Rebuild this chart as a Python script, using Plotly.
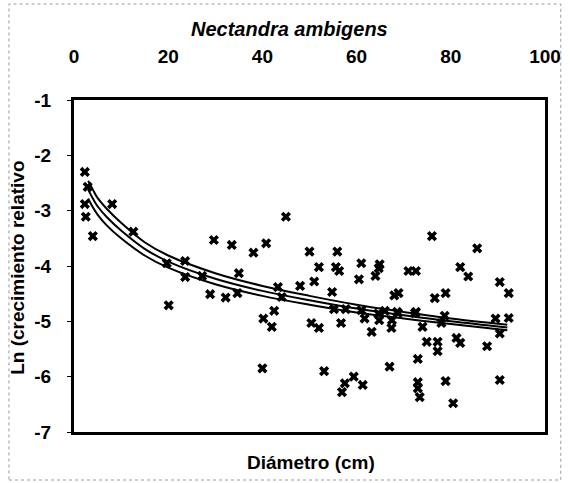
import plotly.graph_objects as go

# Scatter data (diameter cm, ln relative growth)
diam = [2.3, 2.9, 2.3, 2.5, 4.0, 8.1, 12.6,
        19.7, 23.6, 23.6, 27.2, 20.1, 28.9, 32.2, 34.7, 35.0,
        29.7, 33.5, 38.1, 40.8, 45.0,
        50.0, 55.9, 52.0, 55.6, 56.3, 61.0, 64.9, 64.7, 64.0, 71.0, 72.6, 76.0, 60.5, 51.0,
        85.6, 82.0, 83.7, 68.9, 76.6, 78.9, 90.4, 92.3,
        68.8, 72.4, 74.0, 78.7, 78.0, 89.5, 92.3, 90.4,
        74.9, 77.2, 77.2, 81.2, 82.0, 87.7, 73.0, 73.0, 73.0, 73.4, 78.9, 90.4, 80.5,
        43.3, 48.0, 54.8, 44.1, 68.0,
        42.5, 40.2, 42.0, 50.4, 52.0, 56.7, 55.2, 57.7, 61.0, 61.7, 64.6, 64.8, 66.0, 67.5, 68.6, 67.4, 63.2, 72.6,
        40.0, 53.1, 59.4, 61.3, 57.5, 56.9, 67.0]
lncrec = [-2.30, -2.57, -2.88, -3.11, -3.46, -2.88, -3.38,
          -3.95, -3.91, -4.20, -4.18, -4.71, -4.51, -4.57, -4.49, -4.13,
          -3.53, -3.62, -3.76, -3.59, -3.11,
          -3.74, -3.74, -4.02, -4.02, -4.09, -3.95, -3.97, -4.04, -4.18, -4.09, -4.09, -3.46, -4.24, -4.28,
          -3.68, -4.02, -4.19, -4.49, -4.58, -4.49, -4.29, -4.49,
          -4.85, -4.85, -5.10, -4.90, -5.03, -4.95, -4.94, -5.22,
          -5.37, -5.37, -5.54, -5.30, -5.39, -5.45, -5.68, -6.10, -6.21, -6.37, -6.08, -6.06, -6.48,
          -4.38, -4.36, -4.47, -4.56, -4.53,
          -4.81, -4.95, -5.10, -5.03, -5.12, -5.03, -4.78, -4.78, -4.80, -4.95, -4.86, -4.98, -4.81, -4.98, -4.83, -5.12, -5.19, -4.83,
          -5.85, -5.90, -6.00, -6.15, -6.12, -6.28, -5.82]

# Fitted curve and confidence bands
fit_x = [3, 4, 5, 7, 10, 15, 20, 30, 40, 50, 60, 70, 80, 92]
fit_y = [-2.62, -2.78, -2.92, -3.12, -3.36, -3.69, -3.92, -4.23, -4.45, -4.62, -4.77, -4.89, -5.00, -5.11]
upper = [-2.46, -2.62, -2.77, -2.97, -3.22, -3.57, -3.81, -4.13, -4.36, -4.54, -4.70, -4.83, -4.95, -5.06]
lower = [-2.78, -2.94, -3.07, -3.27, -3.50, -3.81, -4.03, -4.33, -4.54, -4.70, -4.84, -4.95, -5.05, -5.16]

x_ticks = [0, 20, 40, 60, 80, 100]
y_ticks = [-1, -2, -3, -4, -5, -6, -7]
y_tick_labels = ["-1", "-2", "-3", "-4", "-5", "-6", "-7"]

FONT = "Liberation Sans"

fig = go.Figure()
fig.add_trace(go.Scatter(x=diam, y=lncrec, mode="markers",
                         marker=dict(symbol="x", size=9, color="black",
                                     line=dict(width=0)),
                         showlegend=False))
for ys in (upper, fit_y, lower):
    fig.add_trace(go.Scatter(x=fit_x, y=ys, mode="lines",
                             line=dict(color="black", width=2, shape="spline"),
                             showlegend=False))

fig.update_layout(
    width=573, height=483,
    margin=dict(l=74, r=21, t=100, b=51),
    paper_bgcolor="white", plot_bgcolor="white",
    font=dict(family=FONT, color="black"),
    xaxis=dict(range=[0, 100], side="top", tickvals=x_ticks,
               showgrid=False, zeroline=False, ticks="",
               showline=True, linecolor="black", linewidth=3, mirror=True,
               tickfont=dict(size=19, weight="bold", family=FONT),
               ticklabelstandoff=26),
    yaxis=dict(range=[-7, -1], tickvals=y_ticks, ticktext=y_tick_labels,
               showgrid=False, zeroline=False, ticks="outside", ticklen=4,
               tickcolor="black",
               showline=True, linecolor="black", linewidth=3, mirror=True,
               tickfont=dict(size=19, weight="bold", family=FONT),
               ticklabelstandoff=12),
    annotations=[
        dict(text="<b><i>Nectandra ambigens</i></b>", xref="paper", yref="paper",
             x=(293 - 74) / 478, y=(432 - 29) / 332, showarrow=False,
             font=dict(size=20, family=FONT), xanchor="center", yanchor="middle"),
        dict(text="<b>Diámetro (cm)</b>", xref="paper", yref="paper",
             x=(315 - 74) / 478, y=(432 - 462) / 332, showarrow=False,
             font=dict(size=19, family=FONT), xanchor="center", yanchor="middle"),
        dict(text="<b>Ln (crecimiento relativo</b>", xref="paper", yref="paper",
             x=(16 - 74) / 478, y=(432 - 268) / 332, showarrow=False, textangle=-90,
             font=dict(size=19, family=FONT), xanchor="center", yanchor="middle"),
    ],
    shapes=[
        dict(type="rect", xref="paper", yref="paper",
             x0=(8 - 74) / 478, x1=(568 - 74) / 478,
             y0=(432 - 480) / 332, y1=(432 - 4) / 332,
             line=dict(color="#999999", width=1, dash="dot")),
    ],
)

fig.write_html("out.html")
